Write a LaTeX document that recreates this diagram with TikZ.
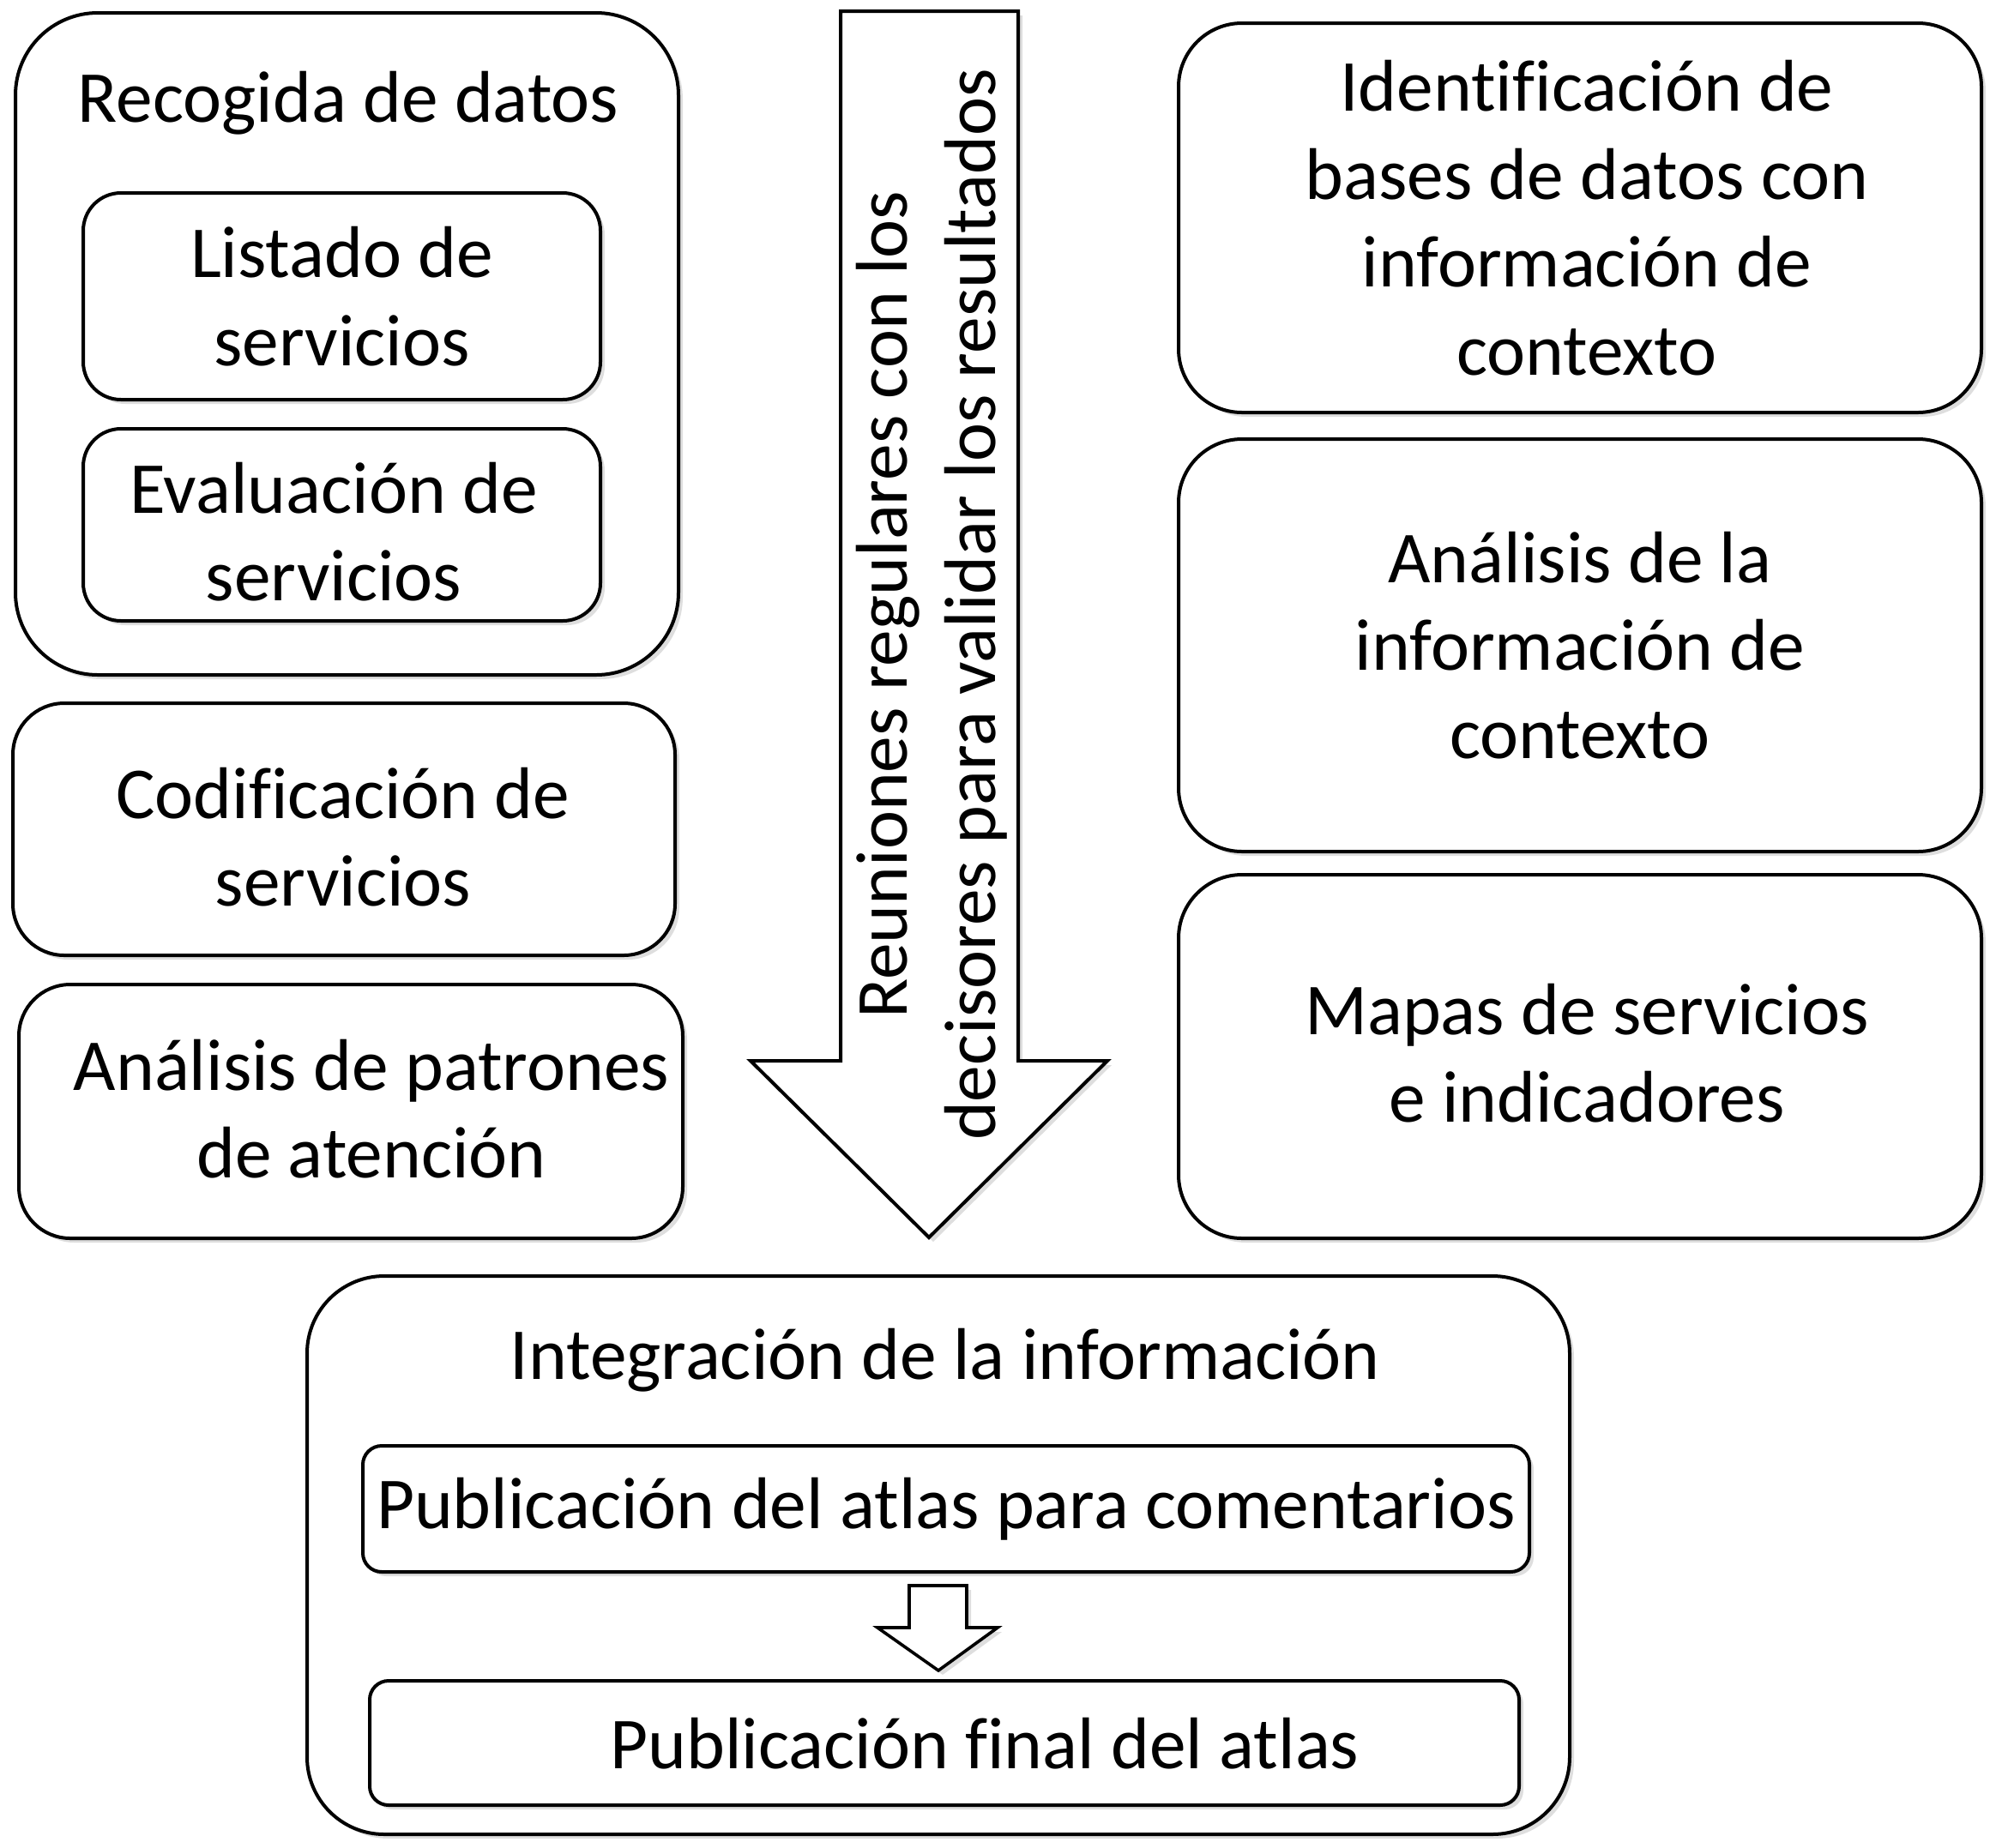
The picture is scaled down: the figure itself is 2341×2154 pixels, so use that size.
\documentclass[tikz,border=0pt]{standalone}
\usepackage{fontspec}
\setmainfont[Ligatures=NoCommon]{Carlito}
\usetikzlibrary{shadows}
\tikzset{
  sh/.style={drop shadow={shadow xshift=2.5pt,shadow yshift=-2.5pt,fill=black,opacity=0.13}},
  bigfont/.style={font=\fontsize{42.7pt}{51.3pt}\selectfont},
  box/.style={draw=black,line width=2pt,fill=white,sh,align=center,inner sep=0pt,bigfont},
  lbl/.style={align=center,inner sep=0pt,bigfont},
  shape arrow/.style={draw=black,line width=2pt,fill=white,sh,line join=miter},
}
\begin{document}
\begin{tikzpicture}[x=0.5pt,y=-0.5pt]
\useasboundingbox (0,0) rectangle (2341,2154);

% left column
\node[box,minimum width=386.5pt,minimum height=386pt,rounded corners=48pt] (recogida) at (404.5,401) {};
\node[lbl] (recogidaT) at (406,120) {Recogida de datos};
\node[box,minimum width=301.5pt,minimum height=120.5pt,rounded corners=22pt] (listado) at (398.5,345.5) {Listado de\\servicios};
\node[box,minimum width=301.5pt,minimum height=112pt,rounded corners=22pt] (evaluacion) at (398.5,612) {};
\node[lbl] (evaluacionT) at (389,620) {Evaluación de\\servicios};
\node[box,minimum width=386pt,minimum height=147pt,rounded corners=30pt] (codif) at (401,967) {};
\node[lbl] (codifT) at (400,976) {Codificación de\\servicios};
\node[box,minimum width=387pt,minimum height=148pt,rounded corners=30pt] (patrones) at (409,1296) {};
\node[lbl] (patronesT) at (433,1293) {Análisis de patrones\\de atención};

% big arrow
\coordinate (aTL) at (980,13);
\coordinate (aTR) at (1187,13);
\coordinate (aR) at (1187,1237);
\coordinate (aHR) at (1291,1237);
\coordinate (aTip) at (1083,1443);
\coordinate (aHL) at (875,1237);
\coordinate (aL) at (980,1237);
\draw[shape arrow] (aTL) -- (aTR) -- (aR) -- (aHR) -- (aTip) -- (aHL) -- (aL) -- cycle;
\node[lbl,rotate=90] (reuniones) at (1086,705) {Reuniones regulares con los\\decisores para validar los resultados};

% right column
\node[box,minimum width=468pt,minimum height=227pt,rounded corners=37pt] (ident) at (1842,254) {};
\node[lbl] (identT) at (1850,254) {Identificación de\\bases de datos con\\información de\\contexto};
\node[box,minimum width=468pt,minimum height=240.5pt,rounded corners=37pt] (analisis) at (1842,752.5) {Análisis de la\\información de\\contexto};
\node[box,minimum width=468pt,minimum height=212pt,rounded corners=37pt] (mapas) at (1842,1232) {};
\node[lbl] (mapasT) at (1850,1228) {Mapas de servicios\\e indicadores};

% bottom
\node[box,minimum width=736pt,minimum height=325.5pt,rounded corners=45pt] (integ) at (1094,1813.5) {};
\node[lbl] (integT) at (1102,1586) {Integración de la información};
\node[box,minimum width=680pt,minimum height=73.5pt,rounded corners=11pt] (pubcom) at (1103,1759.5) {Publicación del atlas para comentarios};
\node[box,minimum width=670pt,minimum height=72.5pt,rounded corners=11pt] (pubfin) at (1101,2032.5) {};
\node[lbl] (pubfinT) at (1148,2033) {Publicación final del atlas};

% small arrow
\coordinate (sTL) at (1060,1849);
\coordinate (sTR) at (1127,1849);
\coordinate (sR) at (1127,1898);
\coordinate (sHR) at (1163,1898);
\coordinate (sTip) at (1094,1948);
\coordinate (sHL) at (1023,1898);
\coordinate (sL) at (1060,1898);
\draw[shape arrow,line width=1.8pt] (sTL) -- (sTR) -- (sR) -- (sHR) -- (sTip) -- (sHL) -- (sL) -- cycle;
\end{tikzpicture}
\end{document}
